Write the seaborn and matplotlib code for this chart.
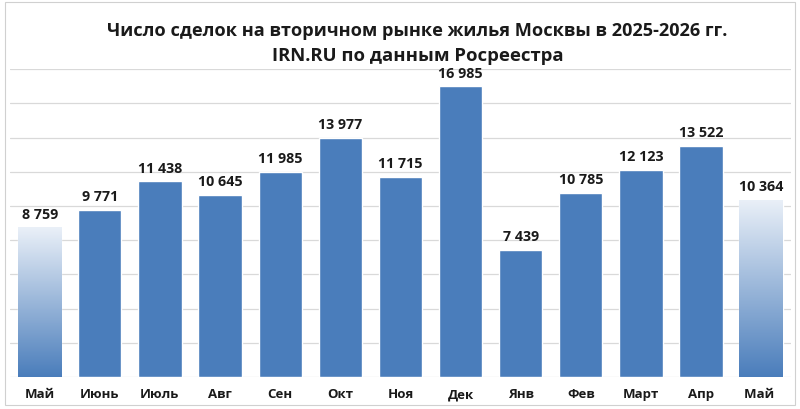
import numpy as np
import pandas as pd
import seaborn as sns
import matplotlib.pyplot as plt
from matplotlib.colors import LinearSegmentedColormap
from matplotlib.patches import Rectangle

months = ["Май", "Июнь", "Июль", "Авг", "Сен", "Окт", "Ноя", "Дек",
          "Янв", "Фев", "Март", "Апр", "Май "]
deals = [8759, 9771, 11438, 10645, 11985, 13977, 11715, 16985,
         7439, 10785, 12123, 13522, 10364]
gradient_bars = [0, 12]

BAR_COLOR = "#4a7dbb"
TEXT_COLOR = "#1a1a1a"
FONT = ["Open Sans", "DejaVu Sans"]

sns.set_style("white")
plt.rcParams["font.family"] = FONT

df = pd.DataFrame({"month": months, "deals": deals})

fig = plt.figure(figsize=(8, 4.09), dpi=100)
ax = fig.add_axes([0.012, 0.078, 0.977, 0.753])

sns.barplot(data=df, x="month", y="deals", color=BAR_COLOR, saturation=1,
            width=0.72, ax=ax)

ax.set_ylim(0, 18000)
ax.set_yticks(np.arange(0, 18001, 2000))
ax.yaxis.grid(True, color="#d9d9d9", linewidth=0.9)
ax.set_axisbelow(True)
ax.set_yticklabels([])
ax.tick_params(axis="y", length=0)
ax.tick_params(axis="x", length=0, pad=8)
for s in ax.spines.values():
    s.set_visible(False)
ax.set_xlabel("")
ax.set_ylabel("")

for label in ax.get_xticklabels():
    label.set_fontweight("bold")
    label.set_fontsize(9.5)
    label.set_color(TEXT_COLOR)

# first and last bars are drawn with a white-to-blue gradient
cmap = LinearSegmentedColormap.from_list("fade", ["#eaf0f8", BAR_COLOR])
grad = np.linspace(0, 1, 256).reshape(-1, 1)
for i in gradient_bars:
    p = ax.patches[i]
    x0, w, h = p.get_x(), p.get_width(), p.get_height()
    p.set_facecolor("none")
    im = ax.imshow(grad, cmap=cmap, aspect="auto",
                   extent=[x0, x0 + w, 0, h], origin="upper", zorder=2)
    im.set_clip_path(p)
ax.set_xlim(-0.5, len(months) - 0.5)
ax.set_ylim(0, 18000)

ax.bar_label(ax.containers[0], labels=[f"{v:,}".replace(",", " ") for v in deals],
             padding=4, fontsize=10.3, fontweight="bold", color=TEXT_COLOR)

fig.text(0.522, 0.925, "Число сделок на вторичном рынке жилья Москвы в 2025-2026 гг.",
         ha="center", va="center", fontsize=13.1, fontweight="bold", color=TEXT_COLOR)
fig.text(0.522, 0.862, "IRN.RU по данным Росреестра",
         ha="center", va="center", fontsize=13.3, fontweight="bold", color=TEXT_COLOR)

fig.patches.append(Rectangle((0.006, 0.01), 0.988, 0.985, transform=fig.transFigure,
                             fill=False, edgecolor="#d0d0d0", linewidth=0.8))

fig.savefig("out.png", dpi=100, facecolor="white")
